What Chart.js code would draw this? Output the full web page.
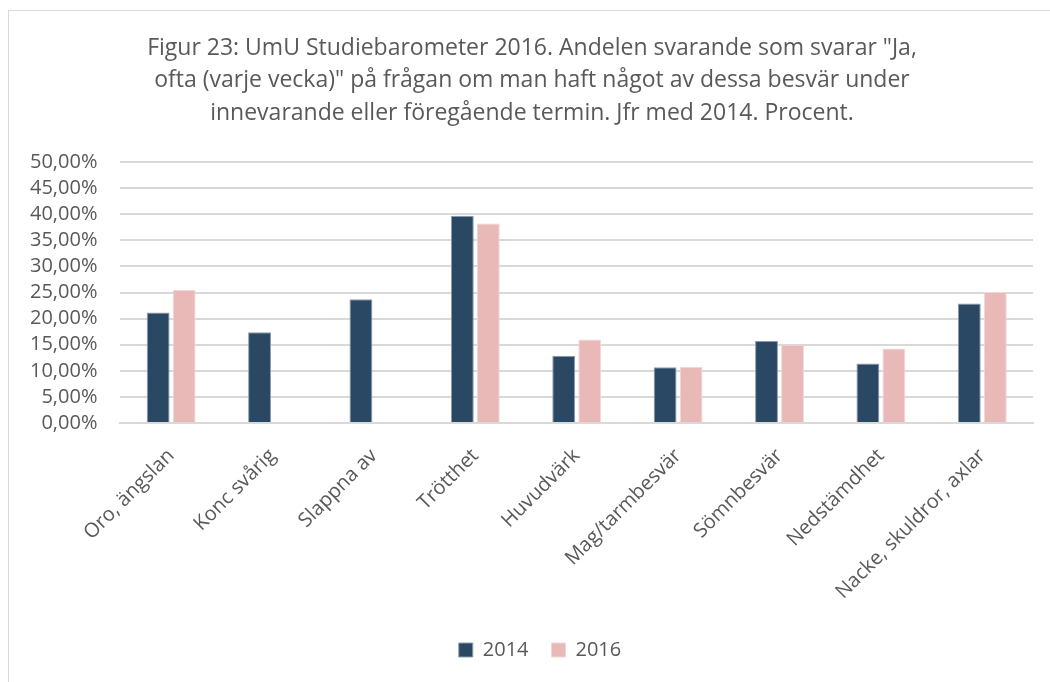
<!DOCTYPE html>
<html>
<head>
<meta charset="utf-8">
<script src="https://cdn.jsdelivr.net/npm/chart.js@4"></script>
<style>
  html, body { margin: 0; padding: 0; background: #fff; overflow: hidden; }
  #frame { position: absolute; left: 8px; top: 10px; width: 1100px; height: 700px; border: 1px solid #d9d9d9; }
  #chart { position: absolute; left: 0; top: 0; }
</style>
</head>
<body>
<div id="frame"></div>
<canvas id="chart" width="1050" height="682"></canvas>
<script>
// Chart data
const categories = ['Oro, ängslan', 'Konc svårig', 'Slappna av', 'Trötthet', 'Huvudvärk',
    'Mag/tarmbesvär', 'Sömnbesvär', 'Nedstämdhet', 'Nacke, skuldror, axlar'];
const values2014 = [21.2, 17.4, 23.7, 39.7, 12.9, 10.7, 15.7, 11.4, 22.9];
const values2016 = [25.5, null, null, 38.2, 16.0, 10.8, 15.0, 14.3, 25.1];
const seriesNames = ['2014', '2016'];
const titleLines = [
    'Figur 23: UmU Studiebarometer 2016. Andelen svarande som svarar "Ja,',
    'ofta (varje vecka)" på frågan om man haft något av dessa besvär under',
    'innevarande eller föregående termin. Jfr med 2014. Procent.'
];

const fontFamily = "'Open Sans', 'Noto Sans', sans-serif";
const textColor = '#595959';

function formatPct(v) {
    return v.toFixed(2).replace('.', ',') + '%';
}

// Title is drawn centred on the frame, not on the plot area
const frameTitle = {
    id: 'frameTitle',
    afterLayout(chart) {
        // legend sits centred on the frame too, a bit right of the plot centre
        chart.legend.left += 20;
        chart.legend.right += 20;
    },
    afterDraw(chart) {
        const c = chart.ctx;
        c.save();
        c.fillStyle = textColor;
        c.font = '23px ' + fontFamily;
        c.textAlign = 'center';
        c.textBaseline = 'middle';
        titleLines.forEach((line, i) => c.fillText(line, 532, 48 + i * 32.5));
        c.restore();
    }
};

const ctx = document.getElementById('chart').getContext('2d');
new Chart(ctx, {
    type: 'bar',
    data: {
        labels: categories,
        datasets: [{
            label: seriesNames[0],
            data: values2014,
            backgroundColor: '#2a4764',
            borderColor: '#8c9bab',
            borderWidth: 1,
            categoryPercentage: 0.513,
            barPercentage: 0.88
        }, {
            label: seriesNames[1],
            data: values2016,
            backgroundColor: '#e9b9b7',
            borderColor: '#f2d6d5',
            borderWidth: 1,
            categoryPercentage: 0.513,
            barPercentage: 0.88
        }]
    },
    plugins: [frameTitle],
    options: {
        responsive: false,
        animation: false,
        layout: { padding: { left: 7, right: 17, top: 162, bottom: 12 } },
        scales: {
            x: {
                grid: { display: false },
                border: { color: '#d9d9d9', width: 2 },
                ticks: {
                    color: textColor,
                    font: { family: fontFamily, size: 20 },
                    minRotation: 45,
                    maxRotation: 45,
                    padding: 13
                }
            },
            y: {
                min: 0,
                max: 50,
                border: { display: false },
                grid: { color: '#d9d9d9', lineWidth: 2, drawTicks: false },
                ticks: {
                    stepSize: 5,
                    autoSkip: false,
                    color: textColor,
                    font: { family: fontFamily, size: 20 },
                    padding: 23,
                    callback: function(value) { return formatPct(value); }
                }
            }
        },
        plugins: {
            title: { display: false },
            legend: {
                position: 'bottom',
                labels: {
                    color: textColor,
                    font: { family: fontFamily, size: 20 },
                    boxWidth: 14,
                    boxHeight: 14,
                    padding: 23
                }
            },
            tooltip: { enabled: false }
        }
    }
});
</script>
</body>
</html>
